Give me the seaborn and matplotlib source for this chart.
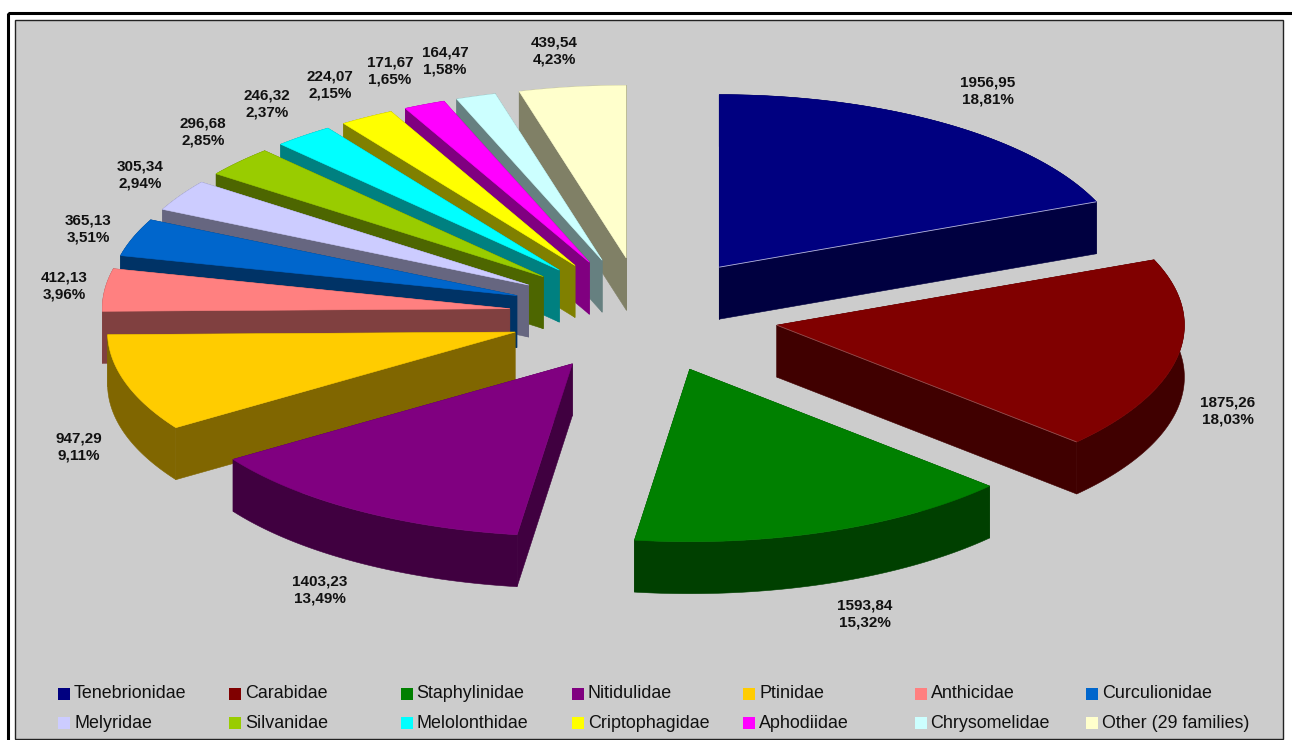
import matplotlib
matplotlib.use("Agg")
import numpy as np
import pandas as pd
import seaborn as sns
import matplotlib.pyplot as plt
from matplotlib.patches import Polygon, Rectangle

families = ["Tenebrionidae", "Carabidae", "Staphylinidae", "Nitidulidae", "Ptinidae",
            "Anthicidae", "Curculionidae", "Melyridae", "Silvanidae", "Melolonthidae",
            "Criptophagidae", "Aphodiidae", "Chrysomelidae", "Other (29 families)"]
values = [1956.95, 1875.26, 1593.84, 1403.23, 947.29, 412.13, 365.13,
          305.34, 296.68, 246.32, 224.07, 171.67, 164.47, 439.54]
shares = [18.81, 18.03, 15.32, 13.49, 9.11, 3.96, 3.51,
          2.94, 2.85, 2.37, 2.15, 1.65, 1.58, 4.23]
top_colors = ["#000080", "#800000", "#008000", "#800080", "#FFCC00", "#FF8080", "#0066CC",
              "#CCCCFF", "#99CC00", "#00FFFF", "#FFFF00", "#FF00FF", "#CCFFFF", "#FFFFCC"]
side_colors = ["#000040", "#400000", "#004000", "#400040", "#806600", "#804040", "#003366",
               "#666680", "#4D6600", "#008080", "#808000", "#800080", "#668080", "#808066"]
label_xy = [(988, 91), (1228, 411), (865, 614), (320, 590), (79, 447), (64, 286), (88, 229),
            (140, 175), (203, 132), (267, 104), (330, 85), (390, 71), (445, 61), (554, 51)]

df = pd.DataFrame({"family": families, "value": values, "share": shares})
df["sweep"] = df["value"] / df["value"].sum() * 2 * np.pi
df["end"] = df["sweep"].cumsum()
df["start"] = df["end"] - df["sweep"]
df["mid"] = (df["start"] + df["end"]) / 2

CX, CY = 644, 315
RX, RY = 407.5, 172.5
EX, EY = 135, 57.6
DEPTH = 52

sns.set_theme(style="white")
plt.rcParams["font.family"] = ["Liberation Sans", "DejaVu Sans"]
top_pal = sns.color_palette(top_colors)
side_pal = sns.color_palette(side_colors)

fig = plt.figure(figsize=(12.92, 7.40), dpi=100, facecolor="white")
ax = fig.add_axes([0, 0, 1, 1])
ax.set_xlim(0, 1292)
ax.set_ylim(740, 0)
ax.axis("off")

ax.add_patch(Rectangle((8, 13), 1290, 740, fill=False, ec="black", lw=2.2))
ax.add_patch(Rectangle((15, 20), 1268, 719, fc="#CCCCCC", ec="#222222", lw=1.0))

def rim(a, ox, oy):
    return np.column_stack([ox + RX * np.sin(a), oy - RY * np.cos(a)])

def extrude(pts):
    return np.vstack([pts, (pts + [0, DEPTH])[::-1]])

for i in df.sort_values("mid", key=lambda s: -np.cos(s)).index:
    row = df.loc[i]
    ox = CX + EX * np.sin(row["mid"])
    oy = CY - EY * np.cos(row["mid"])
    arc = rim(np.linspace(row["start"], row["end"], 80), ox, oy)
    apex = np.array([[ox, oy]])
    kw = dict(fc=side_pal[i], ec=side_pal[i], lw=0.4, zorder=3)
    ax.add_patch(Polygon(extrude(np.vstack([apex, arc[:1]])), **kw))
    ax.add_patch(Polygon(extrude(np.vstack([apex, arc[-1:]])), **kw))
    ax.add_patch(Polygon(extrude(arc), **kw))
    ax.add_patch(Polygon(np.vstack([apex, arc]), fc=top_pal[i], ec=top_pal[i], lw=0.4, zorder=3))
    if i < 2:
        edge = np.vstack([apex, arc[-1:]])
        ax.plot(edge[:, 0], edge[:, 1], color="#B8B8D8" if i == 0 else "#905050",
                lw=0.6, zorder=3, solid_capstyle="butt")

for (x, y), v, s in zip(label_xy, values, shares):
    txt = f"{v:.2f}".replace(".", ",") + "\n" + f"{s:.2f}".replace(".", ",") + "%"
    ax.text(x, y, txt, ha="center", va="center", fontsize=11, fontweight="bold",
            color="#111111", linespacing=1.36, zorder=5)

for i, name in enumerate(families):
    col, row = i % 7, i // 7
    x = 58 + col * 171.3
    y = 693.5 + row * 29.5
    ax.add_patch(Rectangle((x, y - 6), 12, 12, fc=top_pal[i], ec="none", zorder=5))
    ax.text(x + 16, y, name, ha="left", va="center", fontsize=12.9, color="#111111", zorder=5)

fig.savefig("out.png", dpi=100, facecolor="white")
